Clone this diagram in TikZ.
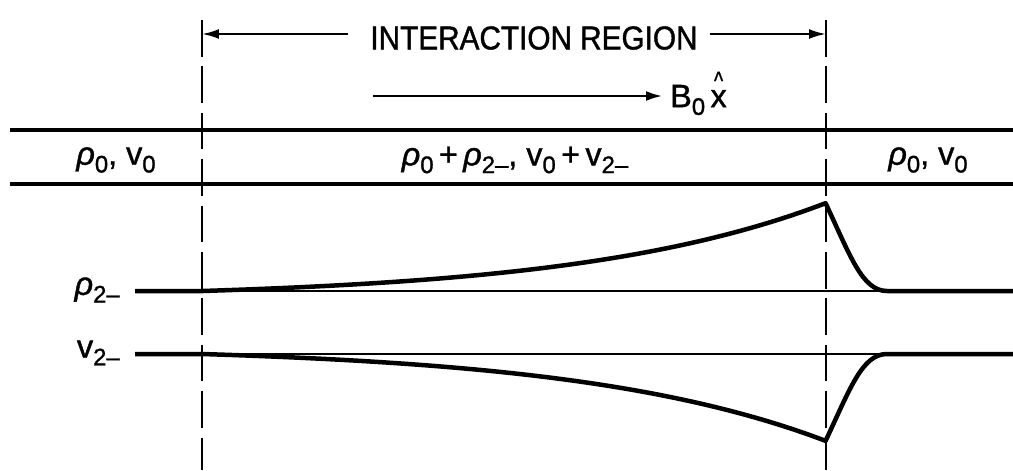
\documentclass[tikz,border=0pt]{standalone}
\usepackage{graphicx}
\usepackage{fontspec}
\setmainfont{Liberation Sans}[FakeBold=1.2]
\newfontfamily\titlefont{Liberation Sans}[FakeStretch=0.9, FakeBold=1.2]
\usetikzlibrary{arrows.meta,positioning,calc}
\newcommand{\sbs}[1]{\raisebox{-0.45ex}{\fontsize{17}{20}\selectfont #1}}
\newcommand{\rh}{{\itshape ρ}}
\newcommand{\hatx}{\ooalign{x\cr\hidewidth\raisebox{12.5pt}{\scalebox{0.6}[0.8]{\textasciicircum}}\hidewidth\cr}}
\tikzset{
  regionline/.style={line width=1.8pt, dash pattern=on 26pt off 7pt},
  bandline/.style={line width=2.5pt},
  axisline/.style={line width=1.4pt},
  curveline/.style={line width=3.2pt, line join=round},
  dimarrow/.style={-{Latex[length=12pt,width=7pt]}, line width=1.6pt},
  fieldarrow/.style={-{Latex[length=12pt,width=7pt]}, line width=2.1pt},
  lbl/.style={font=\fontsize{23}{27}\selectfont, inner sep=0pt},
  titlelbl/.style={font=\titlefont\fontsize{23.5}{27}\selectfont, inner sep=0pt},
}

\begin{document}
\begin{tikzpicture}[x=0.025cm, y=-0.025cm]
  \useasboundingbox (0,0) rectangle (1013,470);
  % edges of the interaction region
  \coordinate (lt) at (202,20);
  \coordinate (lb) at (202,470);
  \coordinate (rt) at (826,20);
  \coordinate (rb) at (826,470);
  \draw[regionline] (lt) -- (lb);
  \draw[regionline] (rt) -- (rb);
  % title and field direction
  \node[titlelbl] (region) at (534,38) {INTERACTION REGION};
  \draw[dimarrow] ([xshift=-0.55cm,yshift=0.1cm]region.west) -- ([yshift=0.1cm]region.west -| lt);
  \draw[dimarrow] ([xshift=0.3cm,yshift=0.1cm]region.east) -- ([yshift=0.1cm]region.east -| rt);
  \coordinate (fieldstart) at (373,96);
  \node[lbl, anchor=west] (field) at (670,100) {B\sbs{0}\,\hatx};
  \draw[fieldarrow] (fieldstart) -- ([xshift=-5pt]field.west |- fieldstart);
  % the plasma band
  \coordinate (bandtl) at (10,130);
  \coordinate (bandtr) at (1013,130);
  \coordinate (bandbl) at (10,184);
  \coordinate (bandbr) at (1013,184);
  \draw[bandline] (bandtl) -- (bandtr);
  \draw[bandline] (bandbl) -- (bandbr);
  \node[lbl] (outerleft) at (116,160) {\rh\sbs{0}, v\sbs{0}};
  \node[lbl] (inner) at (515,160) {\rh\sbs{0}\,+\,\rh\sbs{2–}, v\sbs{0}\,+\,v\sbs{2–}};
  \node[lbl] (outerright) at (928,160) {\rh\sbs{0}, v\sbs{0}};
  % perturbation profiles
  \node[lbl, anchor=east] (rhoaxis) at (120,290) {\rh\sbs{2–}};
  \node[lbl, anchor=east] (vaxis) at (120,353) {v\sbs{2–}};
  \draw[axisline] (135,291) -- (1013,291);
  \draw[axisline] (135,354) -- (1013,354);
  \draw[curveline] (135,291) -- (202,291)
    -- plot[domain=0:1, samples=80] ({202+624*\x},{291-88*(exp(2.5*\x)-1)/(exp(2.5)-1)})
    .. controls (850,255) and (862,291) .. (887,291) -- (1013,291);
  \draw[curveline] (135,354) -- (202,354)
    -- plot[domain=0:1, samples=80] ({202+624*\x},{354+87*(exp(2.5*\x)-1)/(exp(2.5)-1)})
    .. controls (850,389) and (862,354) .. (887,354) -- (1013,354);
\end{tikzpicture}
\end{document}
